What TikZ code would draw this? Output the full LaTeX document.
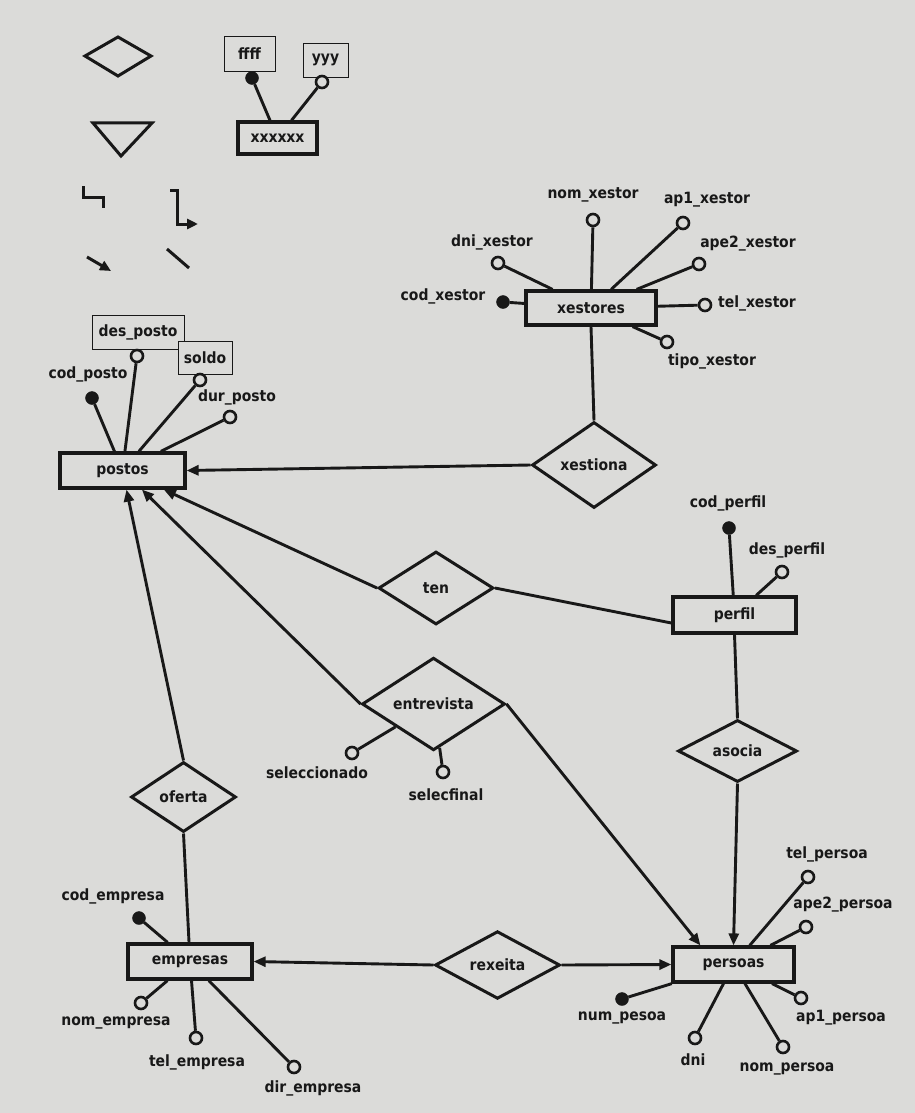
\documentclass[tikz,border=0pt]{standalone}
\usepackage{fontspec}
\setmainfont{DejaVu Sans Condensed}[BoldFont={DejaVu Sans Condensed Bold}]
\usetikzlibrary{shapes.geometric,arrows.meta,calc}
\definecolor{paper}{RGB}{219,219,217}
\definecolor{ink}{RGB}{24,24,24}
\begin{document}
\begin{tikzpicture}[x=1pt,y=-1pt,
  every node/.style={text=ink},
  font=\fontsize{15.5}{18}\selectfont\bfseries,
  entity/.style={draw=ink, line width=3.2pt, minimum height=35pt, inner sep=0pt},
  rel/.style={draw=ink, diamond, line width=3pt, inner sep=0pt},
  attr/.style={inner sep=1pt},
  abox/.style={draw=ink, line width=0.7pt, inner sep=0pt},
  keyc/.style={circle, fill=ink, draw=ink, minimum size=13pt, inner sep=0pt},
  optc/.style={circle, fill=paper, draw=ink, line width=2.6pt, minimum size=12pt, inner sep=0pt},
  link/.style={draw=ink, line width=2.9pt},
  arr/.style={link, -{Triangle[length=12pt,width=10pt]}},
  legend/.style={draw=ink, line width=3pt},
]
\fill[paper] (0,0) rectangle (915,1113);
\useasboundingbox (0,0) rectangle (915,1113);

% ---------- legend ----------
\draw[legend] (85,56) -- (118,37) -- (151,56) -- (118,76) -- cycle;
\draw[legend, line join=miter] (93,123) -- (152,123) -- (121,156) -- cycle;
\draw[legend] (83,186) -- (83,197) -- (103,197) -- (103,208);
\draw[legend, -{Triangle[length=11pt,width=10pt]}] (170,190) -- (177,190) -- (177,224) -- (198,224);
\draw[legend, -{Triangle[length=11pt,width=10pt]}] (87,257) -- (111,271);
\draw[legend] (167,249) -- (189,268);

\node[abox, minimum width=51pt, minimum height=35pt] (ffff) at (249.5,53.5) {ffff};
\node[abox, minimum width=45pt, minimum height=34pt] (yyy) at (325.5,60) {yyy};
\node[entity, minimum width=79pt, minimum height=32pt] (xx) at (277.5,138) {xxxxxx};
\node[keyc] (cff) at (252,78) {};
\node[optc] (cyy) at (322,82) {};
\draw[link] (cff) -- (xx);
\draw[link] (cyy) -- (xx);

% ---------- entities ----------
\node[entity, minimum width=130pt, minimum height=34pt] (xestores) at (591,308) {xestores};
\node[entity, minimum width=125pt] (postos) at (122.5,470.5) {postos};
\node[entity, minimum width=123pt, minimum height=36pt] (perfil) at (734.5,615) {perfil};
\node[entity, minimum width=121pt] (persoas) at (733.5,964.5) {persoas};
\node[entity, minimum width=124pt] (empresas) at (190,961.5) {empresas};

% ---------- relationships ----------
\node[rel, minimum width=124pt, minimum height=86pt] (xestiona) at (594,465) {xestiona};
\node[rel, minimum width=115pt, minimum height=73pt] (ten) at (436,588) {ten};
\node[rel, minimum width=143pt, minimum height=84pt] (entrevista) at (433.5,704) {entrevista};
\node[rel, minimum width=119pt, minimum height=62pt] (asocia) at (737.5,751) {asocia};
\node[rel, minimum width=105pt, minimum height=70pt] (oferta) at (183.5,797) {oferta};
\node[rel, minimum width=125pt, minimum height=64pt] (rexeita) at (497.5,965) {rexeita};

% ---------- relationship connectors ----------
\draw[link] (xestores.south) -- (xestiona.north);
\draw[arr] (xestiona.west) -- (postos.east);
\draw[arr] (ten.west) -- (postos);
\draw[link] (ten.east) -- ($(perfil.west)+(0,8)$);
\draw[arr] (entrevista.west) -- (postos);
\draw[arr] (entrevista.east) -- (persoas.150);
\draw[arr] (oferta.north) -- (postos);
\draw[link] (oferta.south) -- (empresas);
\draw[link] (perfil.south) -- (asocia.north);
\draw[arr] (asocia.south) -- (persoas.north);
\draw[arr] (rexeita.east) -- (persoas.west);
\draw[arr] (rexeita.west) -- (empresas.east);

% ---------- xestores attributes ----------
\node[attr] (l_nomx) at (593,195) {nom\_xestor};
\node[attr] (l_ap1x) at (707,200) {ap1\_xestor};
\node[attr] (l_ape2x) at (748,244) {ape2\_xestor};
\node[attr] (l_dnix) at (492,242) {dni\_xestor};
\node[attr] (l_codx) at (443,296) {cod\_xestor};
\node[attr] (l_telx) at (757,303) {tel\_xestor};
\node[attr] (l_tipox) at (712,361) {tipo\_xestor};
\node[optc] (c_nomx) at (593,220) {};
\node[optc] (c_ap1x) at (683,223) {};
\node[optc] (c_ape2x) at (699,264) {};
\node[optc] (c_dnix) at (498,263) {};
\node[keyc] (c_codx) at (503,302) {};
\node[optc] (c_telx) at (705,305) {};
\node[optc] (c_tipox) at (667,342) {};
\foreach \c in {c_nomx,c_ap1x,c_ape2x,c_dnix,c_codx,c_telx,c_tipox}
  \draw[link] (\c) -- (xestores);

% ---------- postos attributes ----------
\node[abox, minimum width=92pt, minimum height=34pt] (l_desp) at (138,332) {des\_posto};
\node[abox, minimum width=54pt, minimum height=33pt, fill=paper] (l_soldo) at (205,357.5) {soldo};
\node[attr] (l_codp) at (88,374) {cod\_posto};
\node[attr] (l_durp) at (237,397) {dur\_posto};
\node[optc] (c_desp) at (137,356) {};
\node[optc] (c_soldo) at (200,380) {};
\node[keyc] (c_codp) at (92,398) {};
\node[optc] (c_durp) at (230,417) {};
\foreach \c in {c_desp,c_soldo,c_codp,c_durp}
  \draw[link] (\c) -- (postos);

% ---------- perfil attributes ----------
\node[attr] (l_codpf) at (728,503) {cod\_perfil};
\node[attr] (l_despf) at (787,550) {des\_perfil};
\node[keyc] (c_codpf) at (729,528) {};
\node[optc] (c_despf) at (782,572) {};
\draw[link] (c_codpf) -- (perfil);
\draw[link] (c_despf) -- (perfil);

% ---------- entrevista attributes ----------
\node[attr] (l_sel) at (317,773) {seleccionado};
\node[attr] (l_self) at (446,795) {selecfinal};
\node[optc] (c_sel) at (352,753) {};
\node[optc] (c_self) at (443,772) {};
\draw[link] (c_sel) -- (entrevista);
\draw[link] (c_self) -- (entrevista);

% ---------- empresas attributes ----------
\node[attr] (l_code) at (113,896) {cod\_empresa};
\node[attr] (l_nome) at (116,1023) {nom\_empresa};
\node[attr] (l_tele) at (197,1062) {tel\_empresa};
\node[attr] (l_dire) at (313,1088) {dir\_empresa};
\node[keyc] (c_code) at (139,918) {};
\node[optc] (c_nome) at (141,1003) {};
\node[optc] (c_tele) at (196,1038) {};
\node[optc] (c_dire) at (294,1067) {};
\foreach \c in {c_code,c_nome,c_tele,c_dire}
  \draw[link] (\c) -- (empresas);

% ---------- persoas attributes ----------
\node[attr] (l_telpe) at (827,854) {tel\_persoa};
\node[attr] (l_ape2pe) at (843,905) {ape2\_persoa};
\node[attr] (l_ap1pe) at (841,1018) {ap1\_persoa};
\node[attr] (l_nompe) at (787,1069) {nom\_persoa};
\node[attr] (l_dni) at (693,1060) {dni};
\node[attr] (l_num) at (622,1018) {num\_pesoa};
\node[optc] (c_telpe) at (808,877) {};
\node[optc] (c_ape2pe) at (806,927) {};
\node[optc] (c_ap1pe) at (801,998) {};
\node[optc] (c_nompe) at (783,1047) {};
\node[optc] (c_dni) at (695,1038) {};
\node[keyc] (c_num) at (622,999) {};
\foreach \c in {c_telpe,c_ape2pe,c_ap1pe,c_nompe,c_dni,c_num}
  \draw[link] (\c) -- (persoas);
\end{tikzpicture}
\end{document}
